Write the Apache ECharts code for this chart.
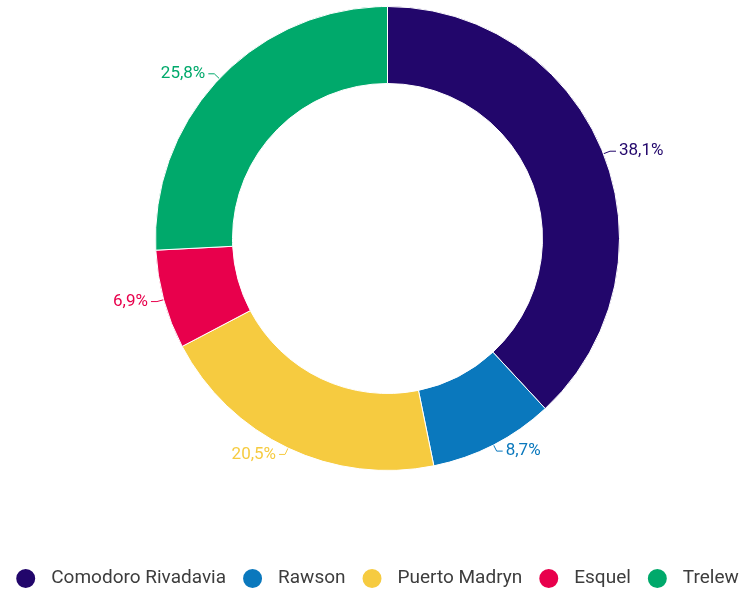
<!DOCTYPE html>
<html>
<head>
<meta charset="utf-8">
<script src="https://cdn.jsdelivr.net/npm/echarts@6/dist/echarts.min.js"></script>
<style>
  html, body { margin: 0; padding: 0; background: #fff; }
  #chart { width: 753px; height: 592px; }
</style>
</head>
<body>
<div id="chart"></div>
<script>
const ciudades = ["Comodoro Rivadavia", "Rawson", "Puerto Madryn", "Esquel", "Trelew"];
const porcentajes = [38.1, 8.7, 20.5, 6.9, 25.8];
const colores = ["#22066b", "#0a78bd", "#f6cb40", "#e8004c", "#00a96b"];

const chart = echarts.init(document.getElementById("chart"), null, { renderer: "canvas" });

chart.setOption({
  animation: false,
  color: colores,
  legend: {
    bottom: -3,
    left: "center",
    icon: "circle",
    itemWidth: 21,
    itemHeight: 21,
    itemGap: 15,
    textStyle: {
      color: "#3d3d3d",
      fontFamily: "Roboto",
      fontSize: 19,
      padding: [0, 0, 0, 10]
    },
    data: ciudades
  },
  series: [
    {
      type: "pie",
      center: [387.5, 238.5],
      radius: [155, 232],
      startAngle: 90,
      clockwise: true,
      itemStyle: {
        borderColor: "#fff",
        borderWidth: 1
      },
      label: {
        show: true,
        position: "outside",
        fontFamily: "Roboto",
        fontSize: 17,
        color: "inherit",
        distanceToLabelLine: 3,
        formatter: (p) => p.value.toFixed(1).replace(".", ",") + "%"
      },
      labelLine: {
        show: true,
        length: 7,
        length2: 6,
        lineStyle: { width: 1 }
      },
      data: ciudades.map((name, i) => ({ name, value: porcentajes[i] }))
    }
  ]
});
</script>
</body>
</html>
